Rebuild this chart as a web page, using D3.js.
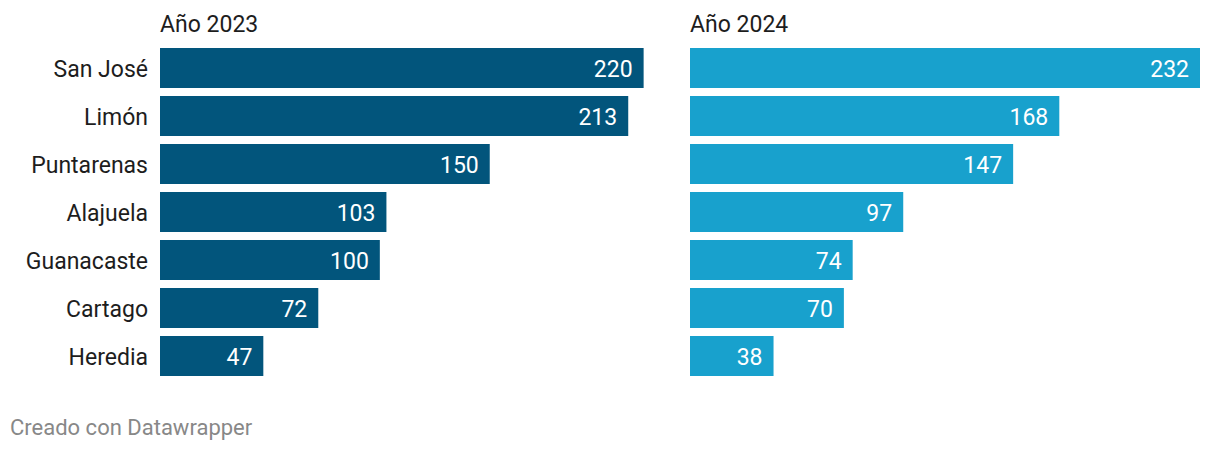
<!DOCTYPE html>
<html><head><meta charset="utf-8">
<script src="https://cdn.jsdelivr.net/npm/d3@7"></script>
<style>
html,body{margin:0;padding:0;background:#fff;}
svg{display:block;font-family:Roboto, sans-serif;}
</style></head>
<body>
<svg id="chart" width="1220" height="452"></svg>
<script>
const categories = ["San José","Limón","Puntarenas","Alajuela","Guanacaste","Cartago","Heredia"];
const values2023 = [220,213,150,103,100,72,47];
const values2024 = [232,168,147,97,74,70,38];
const panelTitles = ["Año 2023","Año 2024"];
const footerText = "Creado con Datawrapper";

const svg = d3.select("#chart");
const y = d3.scaleBand().domain(categories).range([48, 376]).paddingInner(1/6).paddingOuter(0);
const x = d3.scaleLinear().domain([0, 232]).range([0, 510]);

const panels = [
  {title: panelTitles[0], values: values2023, x0: 160, color: "#02557c"},
  {title: panelTitles[1], values: values2024, x0: 690, color: "#18a1cd"}
];

svg.append("g").selectAll("text").data(categories).join("text")
  .attr("x", 148).attr("y", d => y(d) + y.bandwidth()/2)
  .attr("dy", "0.4em").attr("text-anchor", "end")
  .attr("font-size", 23).attr("fill", "#1d1d1d").text(d => d);

panels.forEach(p => {
  const g = svg.append("g").attr("transform", `translate(${p.x0},0)`);
  g.append("text").attr("x", 0).attr("y", 32).attr("font-size", 23)
    .attr("fill", "#1d1d1d").text(p.title);
  const data = categories.map((c,i) => ({c, v: p.values[i]}));
  g.selectAll("rect").data(data).join("rect")
    .attr("x", 0).attr("y", d => y(d.c)).attr("height", y.bandwidth())
    .attr("width", d => x(d.v)).attr("fill", p.color);
  g.selectAll("text.val").data(data).join("text").attr("class","val")
    .attr("x", d => x(d.v) - 11).attr("y", d => y(d.c) + y.bandwidth()/2)
    .attr("dy", "0.4em").attr("text-anchor", "end")
    .attr("font-size", 23).attr("fill", "#fff").text(d => d.v);
});

svg.append("text").attr("x", 10).attr("y", 435).attr("font-size", 22)
  .attr("fill", "#888").text(footerText);
</script>
</body></html>
